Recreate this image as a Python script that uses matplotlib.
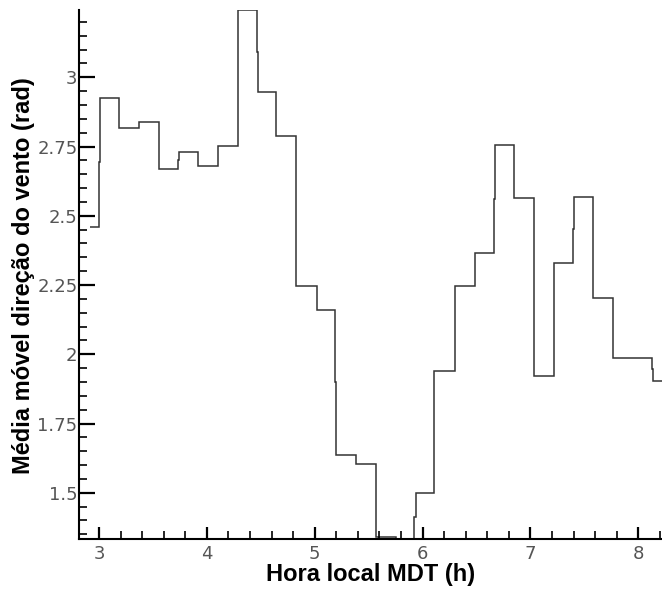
import matplotlib
matplotlib.use("Agg")
import matplotlib.pyplot as plt
from matplotlib.ticker import MultipleLocator, FuncFormatter

# step edges (hours, MDT) and the moving average between them (rad)
edges = [2.917, 3.000, 3.009, 3.186, 3.371, 3.557, 3.730, 3.742, 3.915, 4.101,
         4.286, 4.466, 4.475, 4.642, 4.827, 5.019, 5.189, 5.198, 5.384, 5.570,
         5.755, 5.925, 5.940, 6.110, 6.300, 6.488, 6.661, 6.670, 6.846, 7.031,
         7.217, 7.393, 7.403, 7.579, 7.764, 8.128, 8.137, 8.250]
media_movel = [2.458, 2.693, 2.926, 2.818, 2.837, 2.668, 2.701, 2.729, 2.680,
               2.753, 3.243, 3.092, 2.948, 2.789, 2.247, 2.160, 1.900, 1.636,
               1.603, 1.340, 1.333, 1.413, 1.500, 1.939, 2.247, 2.364, 2.559,
               2.755, 2.563, 1.921, 2.328, 2.451, 2.569, 2.202, 1.985, 1.945,
               1.904]

x_ticks = [3, 4, 5, 6, 7, 8]
y_ticks = [1.5, 1.75, 2, 2.25, 2.5, 2.75, 3]

fig = plt.figure(figsize=(6.62, 5.92), dpi=100)
ax = fig.add_axes([79/662, 53/592, 583/662, 529/592])

ax.stairs(media_movel, edges, baseline=None, color="#333333", lw=1.1)

ax.set_xlim(2.814, 8.22)
ax.set_ylim(1.333, 3.243)

ax.set_xticks(x_ticks)
ax.set_yticks(y_ticks)
ax.xaxis.set_minor_locator(MultipleLocator(0.2))
ax.yaxis.set_minor_locator(MultipleLocator(0.05))
ax.yaxis.set_major_formatter(FuncFormatter(lambda v, p: f"{v:g}"))

for s in ["top", "right"]:
    ax.spines[s].set_visible(False)
for s in ["left", "bottom"]:
    ax.spines[s].set_linewidth(1.5)
    ax.spines[s].set_color("black")

ax.tick_params(axis="both", which="both", direction="in", color="black",
               labelsize=13, labelcolor="#555555")
ax.tick_params(axis="y", which="major", length=11.5, width=1.6, pad=1)
ax.tick_params(axis="y", which="minor", length=6, width=1.2)
ax.tick_params(axis="x", which="major", length=9, width=1.6, pad=4)
ax.tick_params(axis="x", which="minor", length=5.5, width=1.2)
for lab in ax.get_xticklabels() + ax.get_yticklabels():
    lab.set_family("DejaVu Sans")

ax.set_xlabel("Hora local MDT (h)", family="Liberation Sans", fontsize=17,
              fontweight="bold", labelpad=0.5)
ax.set_ylabel("Média móvel direção do vento (rad)", family="Liberation Sans",
              fontsize=17, fontweight="bold")
ax.yaxis.set_label_coords(-0.075, 0.497)

fig.savefig("out.png", dpi=100)
